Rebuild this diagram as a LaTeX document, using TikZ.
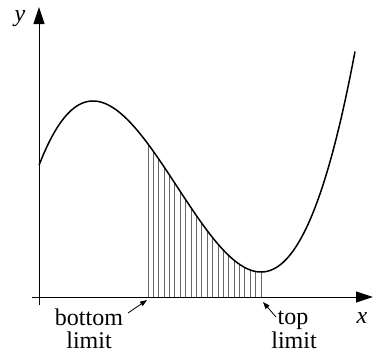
\documentclass[tikz,border=0pt]{standalone}
\usepackage{fontspec}
\setmainfont{Liberation Serif}
\usetikzlibrary{arrows.meta}
\begin{document}
\begin{tikzpicture}[x=1pt,y=-1pt,
  axis/.style={line width=1pt,-{Triangle[length=17pt,width=11pt]}},
  curve/.style={line width=1.5pt},
  hatch/.style={line width=0.9pt,gray!80!black},
  pointer/.style={line width=0.8pt,-{Triangle[length=7pt,width=5pt]}},
  lbl/.style={font=\fontsize{24}{24}\selectfont,align=center,inner sep=0pt,anchor=base}]
\useasboundingbox (0,0) rectangle (373,354);
% hatch lines
\foreach \i in {0,...,21}{
  \pgfmathsetmacro{\xx}{148+\i*113/21}
  \pgfmathsetmacro{\s}{(\xx-177)/100}
  \pgfmathsetmacro{\yy}{186.5-72.13*\s*\s*\s+152.7*\s}
  \draw[hatch] (\xx,297) -- (\xx,\yy);
}
% axes
\coordinate (xs) at (32,297);
\coordinate (xe) at (373,297);
\coordinate (ys) at (39,305);
\coordinate (ye) at (39,7);
\draw[axis] (xs) -- (xe);
\draw[axis] (ys) -- (ye);
% curve
\draw[curve,domain=39:355,samples=120,variable=\t]
  plot ({\t},{186.5-72.13*((\t-177)/100)^3+152.7*((\t-177)/100)});
% labels
\node[lbl,font=\fontsize{24}{24}\selectfont\itshape] (ylab) at (20,21) {y};
\node[lbl,font=\fontsize{24}{24}\selectfont\itshape] (xlab) at (362,323) {x};
\node[lbl] (bot) at (89,325) {bottom};
\node[lbl] (botl) at (89,348) {limit};
\node[lbl] (top) at (293,324) {top};
\node[lbl] (topl) at (294,348) {limit};
\coordinate (ba) at (128,313);
\coordinate (bb) at (147,300);
\coordinate (ta) at (276,317);
\coordinate (tb) at (263,302);
\draw[pointer] (ba) -- (bb);
\draw[pointer] (ta) -- (tb);
\end{tikzpicture}
\end{document}
